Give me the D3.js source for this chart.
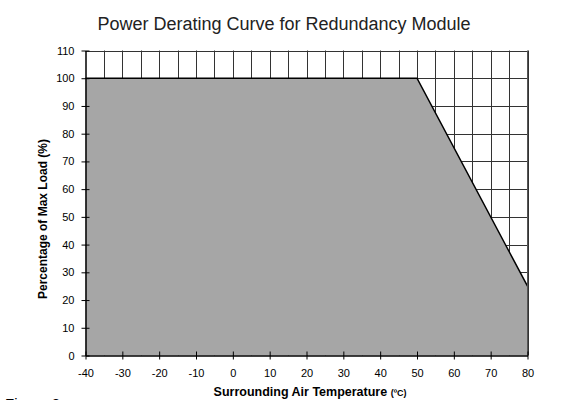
<!DOCTYPE html>
<html>
<head>
<meta charset="utf-8">
<script src="https://cdn.jsdelivr.net/npm/d3@7"></script>
<style>
  body { margin: 0; background: #fff; }
  text { font-family: Arial, "Liberation Sans", sans-serif; }
</style>
</head>
<body>
<svg width="582" height="400"></svg>
<script>
// derating curve: temperature (C) vs percentage of max load
var temps = [-40, 50, 80];
var loads = [100, 100, 25];
var xTicks = [-40, -30, -20, -10, 0, 10, 20, 30, 40, 50, 60, 70, 80];
var yTicks = [0, 10, 20, 30, 40, 50, 60, 70, 80, 90, 100, 110];

const svg = d3.select("svg");
var plotLeft = 85.5, plotRight = 527.5, plotTop = 50.5, plotBottom = 355.5;

var x = d3.scaleLinear().domain([-40, 80]).range([plotLeft, plotRight]);
var y = d3.scaleLinear().domain([0, 110]).range([plotBottom, plotTop]);

var pts = temps.map(function (t, i) { return { t: t, v: loads[i] }; });

// grid (vertical every 5, horizontal every 10)
var grid = svg.append("g").attr("stroke", "#333").attr("stroke-width", 1);
grid.selectAll("line.v")
  .data(d3.range(-35, 81, 5))
  .join("line")
  .attr("class", "v")
  .attr("x1", function (d) { return Math.round(x(d)) + 0.5; })
  .attr("x2", function (d) { return Math.round(x(d)) + 0.5; })
  .attr("y1", y(110))
  .attr("y2", y(0));
grid.selectAll("line.h")
  .data(d3.range(10, 111, 10))
  .join("line")
  .attr("class", "h")
  .attr("x1", x(-40))
  .attr("x2", x(80))
  .attr("y1", function (d) { return Math.round(y(d)) + 0.5; })
  .attr("y2", function (d) { return Math.round(y(d)) + 0.5; });

// filled area under curve
var area = d3.area()
  .x(function (d) { return x(d.t); })
  .y0(y(0))
  .y1(function (d) { return y(d.v); });
svg.append("path")
  .datum(pts)
  .attr("d", area)
  .attr("fill", "#a6a6a6");

var line = d3.line()
  .x(function (d) { return x(d.t); })
  .y(function (d) { return y(d.v); });
svg.append("path")
  .datum(pts)
  .attr("d", line)
  .attr("fill", "none")
  .attr("stroke", "#000")
  .attr("stroke-width", 1.5);

// right border
svg.append("line")
  .attr("x1", x(80)).attr("x2", x(80))
  .attr("y1", y(110)).attr("y2", y(0))
  .attr("stroke", "#555");

// axes
var fmt = function (d) { return String(d); };
var xAxis = d3.axisBottom(x).tickValues(xTicks).tickFormat(fmt).tickSizeInner(0).tickSizeOuter(0).tickPadding(14);
var yAxis = d3.axisLeft(y).tickValues(yTicks).tickFormat(fmt).tickSizeInner(0).tickSizeOuter(0).tickPadding(11);

var gx = svg.append("g").attr("transform", "translate(0," + plotBottom + ")").call(xAxis);
var gy = svg.append("g").attr("transform", "translate(" + plotLeft + ",0)").call(yAxis);
[gx, gy].forEach(function (g) {
  g.select(".domain").attr("stroke", "#000").attr("stroke-width", 1.5);
  g.selectAll(".tick text").attr("font-size", 11).attr("fill", "#000")
    .style("font-family", "Arial, 'Liberation Sans', sans-serif");
});
gx.selectAll(".tick").append("line")
  .attr("y1", -4).attr("y2", 4).attr("stroke", "#000");
gy.selectAll(".tick").append("line")
  .attr("x1", -4).attr("x2", 4).attr("stroke", "#000");

// title
svg.append("text")
  .attr("x", 284)
  .attr("y", 30)
  .attr("text-anchor", "middle")
  .attr("font-size", 18)
  .attr("fill", "#222")
  .text("Power Derating Curve for Redundancy Module");

// axis labels
svg.append("text")
  .attr("transform", "translate(47,219) rotate(-90)")
  .attr("text-anchor", "middle")
  .attr("font-size", 12)
  .attr("font-weight", "bold")
  .text("Percentage of Max Load (%)");

var xl = svg.append("text")
  .attr("x", 310)
  .attr("y", 396)
  .attr("text-anchor", "middle")
  .attr("font-size", 12.5)
  .attr("font-weight", "bold");
xl.append("tspan").text("Surrounding Air Temperature ");
xl.append("tspan").attr("font-size", 9).text("(ºC)");

svg.append("text")
  .attr("x", 5)
  .attr("y", 409)
  .attr("font-size", 15)
  .text("Figure 3");
</script>
</body>
</html>
